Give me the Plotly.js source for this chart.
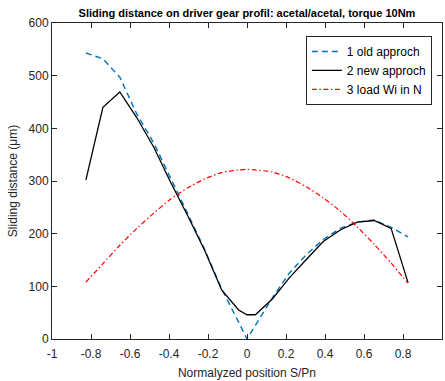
<!DOCTYPE html>
<html>
<head>
<meta charset="utf-8">
<script src="https://cdn.plot.ly/plotly-3.0.1.min.js"></script>
<style>html,body{margin:0;padding:0;background:#fff;}#chart{width:445px;height:381px;}</style>
</head>
<body>
<div id="chart"></div>
<script>
// Normalized positions S/Pn
const positions = [-0.826, -0.739, -0.652, -0.565, -0.478, -0.391, -0.304, -0.217, -0.130, -0.043, 0, 0.043, 0.130, 0.217, 0.304, 0.391, 0.478, 0.565, 0.652, 0.739, 0.826];
// 1 old approch (µm)
const oldApproach = [543, 532, 497, 427, 372, 306, 238, 170, 95, 32, 0, 26, 78, 125, 160, 189, 210, 222, 226, 212, 194];
// 2 new approch (µm)
const newApproach = [302, 440, 469, 420, 364, 297, 234, 168, 93, 55, 46, 46, 76, 116, 151, 185, 207, 222, 225, 210, 107];
// 3 load Wi in N
const loadWi = [108, 143, 178, 210, 239, 266, 287, 304, 316, 321, 322, 321, 317, 306, 289, 268, 243, 213, 180, 144, 106];

const seriesNames = ['1 old approch', '2 new approch', '3 load Wi in N'];
const xTicks = [-1, -0.8, -0.6, -0.4, -0.2, 0, 0.2, 0.4, 0.6, 0.8, 1];
const yTicks = [0, 100, 200, 300, 400, 500, 600];

const axisColor = '#262626';
const fontFam = '"Liberation Sans", Arial, Helvetica, sans-serif';

const traces = [
  {x: positions, y: oldApproach, name: seriesNames[0], mode: 'lines',
   line: {color: '#0072BD', width: 1.4, dash: '6px,4px'}},
  {x: positions, y: newApproach, name: seriesNames[1], mode: 'lines',
   line: {color: '#000000', width: 1.3}},
  {x: positions, y: loadWi, name: seriesNames[2], mode: 'lines', line: {shape: 'spline', smoothing: 0.6, color: '#FF0000', width: 1.2, dash: '5px,2.5px,1.5px,2.5px'}}
];

const axisCommon = {
  showgrid: false, zeroline: false, showline: true, linecolor: axisColor, linewidth: 1,
  mirror: 'ticks', ticks: 'inside', ticklen: 5, tickwidth: 1, tickcolor: axisColor,
  tickfont: {family: fontFam, size: 12, color: axisColor}
};

const layout = {
  width: 445, height: 381,
  margin: {l: 52, r: 3, t: 23, b: 42},
  paper_bgcolor: '#ffffff', plot_bgcolor: '#ffffff',
  font: {family: fontFam, size: 12, color: axisColor},
  title: {text: '<b>Sliding distance on driver gear profil: acetal/acetal, torque 10Nm</b>',
          font: {family: fontFam, size: 11, color: '#000000'},
          x: 0.5, xref: 'paper', xanchor: 'center', y: 1, yref: 'container', yanchor: 'top', pad: {t: 9}},
  xaxis: Object.assign({}, axisCommon, {
    range: [-1, 1], tickvals: xTicks, ticktext: xTicks.map(String), ticklabelstandoff: 4,
    title: {text: 'Normalyzed position S/Pn', font: {family: fontFam, size: 12, color: axisColor}, standoff: 8}
  }),
  yaxis: Object.assign({}, axisCommon, {
    range: [0, 600], tickvals: yTicks, ticktext: yTicks.map(String),
    title: {text: 'Sliding distance (μm)', font: {family: fontFam, size: 12, color: axisColor}, standoff: 8}
  }),
  legend: {x: 0.974, y: 0.959, xanchor: 'right', yanchor: 'top',
           bgcolor: '#ffffff', bordercolor: axisColor, borderwidth: 1,
           font: {family: fontFam, size: 12, color: '#000000'}, tracegroupgap: 0},
  showlegend: true
};

Plotly.newPlot('chart', traces, layout, {displayModeBar: false, staticPlot: true});
</script>
</body>
</html>
